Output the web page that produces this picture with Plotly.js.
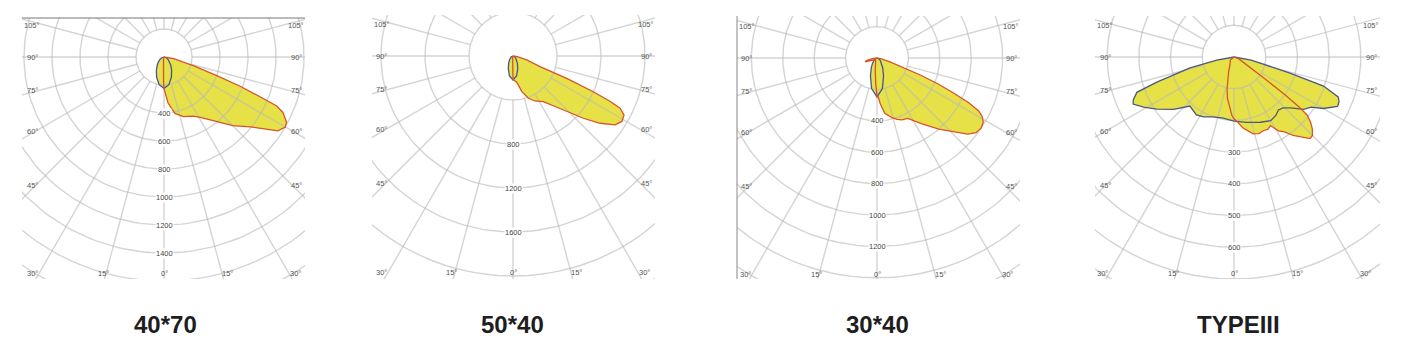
<!DOCTYPE html>
<html><head><meta charset="utf-8">
<script src="https://cdn.plot.ly/plotly-3.0.1.min.js"></script>
<style>html,body{margin:0;padding:0;background:#fff;}#chart{width:1407px;height:349px;}</style>
</head><body><div id="chart"></div>
<script>
// ---------- DATA (angle from nadir in degrees; negative = C180/C270 side; intensity in cd) ----------
const TITLES = ['40*70', '50*40', '30*40', 'TYPEIII'];

// Panel 1 : 40*70
const P1_RED_ANG = [-90, -30, -10, -5, -2, -1, 0, 2, 5, 11, 18, 26, 31, 39, 45, 51, 55, 57, 60, 62, 65, 66.5, 67.5, 69, 70.5, 73.5, 80, 90];
const P1_RED_CD  = [0, 5, 20, 45, 110, 180, 225, 265, 330, 410, 448, 470, 504, 592, 694, 793, 896, 969, 1001, 991, 937, 878, 742, 583, 400, 218, 70, 0];
const P1_BLUE_ANG = [-90, -80, -70, -60, -50, -40, -30, -20, -10, 0, 10, 20, 30, 40, 50, 60, 70, 80, 90];
const P1_BLUE_CD  = [0, 10, 20, 33, 51, 75, 109, 154, 201, 224, 201, 154, 109, 75, 51, 33, 20, 10, 0];
const P1_RINGS = [200, 400, 600, 800, 1000, 1200, 1400, 1600, 1800];
const P1_RING_LABELS = [400, 600, 800, 1000, 1200, 1400];

// Panel 2 : 50*40
const P2_RED_ANG = [-90, -30, -10, -5, -2, -1, 0, 4, 8, 14, 20, 26, 33.5, 39, 44, 48.5, 52.3, 56, 59, 62, 64, 65, 66, 67.4, 68.4, 74, 82, 90];
const P2_RED_CD  = [0, 5, 20, 40, 100, 170, 215, 225, 240, 334, 409, 455, 498, 582, 703, 854, 1000, 1119, 1155, 1143, 1083, 972, 799, 529, 264, 130, 40, 0];
const P2_BLUE_ANG = [-90, -80, -70, -60, -50, -40, -30, -20, -10, 0, 10, 20, 30, 40, 50, 60, 70, 80, 90];
const P2_BLUE_CD  = [0, 6, 13, 22, 34, 52, 80, 125, 185, 218, 185, 125, 80, 52, 34, 22, 13, 6, 0];
const P2_RINGS = [400, 800, 1200, 1600, 2000, 2400];
const P2_RING_LABELS = [800, 1200, 1600];

// Panel 3 : 30*40
const P3_RED_ANG = [-90, -82, -77, -72.5, -68, -60, -40, -20, -8, -3, -1, 0, 2, 4, 8, 14, 18, 22, 27, 34, 41, 47, 50, 53, 56, 59, 61, 62.5, 64, 65.5, 67, 68.5, 70, 73, 80, 90];
const P3_RED_CD  = [0, 30, 65, 80, 45, 25, 15, 25, 80, 160, 215, 240, 250, 290, 355, 392, 411, 425, 432, 505, 600, 690, 755, 790, 800, 790, 765, 730, 650, 530, 420, 300, 190, 90, 30, 0];
const P3_BLUE_ANG = [-90, -80, -70, -60, -50, -40, -30, -20, -10, 0, 10, 20, 30, 40, 50, 60, 70, 80, 90];
const P3_BLUE_CD  = [0, 5, 11, 18, 29, 45, 73, 122, 198, 248, 198, 122, 73, 45, 29, 18, 11, 5, 0];
const P3_RINGS = [200, 400, 600, 800, 1000, 1200, 1400, 1600];
const P3_RING_LABELS = [400, 600, 800, 1000, 1200];

// Panel 4 : TYPEIII
const P4_RED_ANG = [-90, -50, -26, -20, -15, -12, -9, -5, -2, 0, 3, 7, 10, 14, 18, 22, 25, 28, 31, 34, 37, 40, 43, 45, 47.5, 49.5, 51.5, 52.5, 53.5, 55, 60, 70, 90];
const P4_RED_CD  = [0, 15, 30, 50, 75, 105, 132, 160, 185, 195, 205, 225, 235, 250, 254, 250, 252, 245, 272, 285, 310, 330, 352, 350, 335, 318, 295, 260, 200, 110, 45, 15, 0];
const P4_BLUE_ANG = [-90, -80, -76, -72, -70, -67, -65, -61, -56, -49, -42, -33, -27, -19, -10, 0, 11, 22, 30, 36, 40, 44, 48, 53, 57, 60, 64.5, 67, 69, 72, 74, 80, 90];
const P4_BLUE_CD  = [0, 55, 143, 256, 326, 345, 351, 326, 294, 252, 208, 218, 212, 200, 196, 202, 210, 222, 232, 226, 218, 223, 240, 275, 290, 325, 362, 360, 352, 297, 184, 55, 0];
const P4_RINGS = [100, 200, 300, 400, 500, 600, 700, 800];
const P4_RING_LABELS = [300, 400, 500, 600];

const SIDE_LABELS = ['105°', '90°', '75°', '60°', '45°'];
const BOTTOM_LABELS = ['30°', '15°', '0°', '15°', '30°'];

// ---------- LAYOUT GEOMETRY (pixels) ----------
const W = 1407, H = 349;
const FRAMES = [
  {L: 22,   R: 305,  T: 18, B: 279, cx: 164,  cy: 57, s: 0.140, titleX: 165},
  {L: 372,  R: 655,  T: 15, B: 279, cx: 513,  cy: 56, s: 0.110, titleX: 512},
  {L: 737,  R: 1020, T: 16, B: 279, cx: 877,  cy: 58, s: 0.157, titleX: 877},
  {L: 1095, R: 1380, T: 16, B: 279, cx: 1234, cy: 57, s: 0.317, titleX: 1238}
];
const PANELS = [
  {red: [P1_RED_ANG, P1_RED_CD], blue: [P1_BLUE_ANG, P1_BLUE_CD], rings: P1_RINGS, labels: P1_RING_LABELS},
  {red: [P2_RED_ANG, P2_RED_CD], blue: [P2_BLUE_ANG, P2_BLUE_CD], rings: P2_RINGS, labels: P2_RING_LABELS},
  {red: [P3_RED_ANG, P3_RED_CD], blue: [P3_BLUE_ANG, P3_BLUE_CD], rings: P3_RINGS, labels: P3_RING_LABELS},
  {red: [P4_RED_ANG, P4_RED_CD], blue: [P4_BLUE_ANG, P4_BLUE_CD], rings: P4_RINGS, labels: P4_RING_LABELS}
];

const YELLOW = 'rgb(229,225,70)';
const RED = 'rgb(214,84,44)';
const BLUE = 'rgb(72,84,150)';
const GRID = 'rgba(185,185,185,0.62)';

function polar(angs, cds) {
  const x = [], y = [];
  for (let i = 0; i < angs.length; i++) {
    const a = angs[i] * Math.PI / 180;
    x.push(cds[i] * Math.sin(a));
    y.push(-cds[i] * Math.cos(a));
  }
  return {x, y};
}

const traces = [];
const annotations = [];
const shapes = [];
const layout = {
  width: W, height: H, margin: {l: 0, r: 0, t: 0, b: 0},
  paper_bgcolor: '#fff', plot_bgcolor: 'rgba(0,0,0,0)', showlegend: false,
  annotations, shapes
};

PANELS.forEach((p, i) => {
  const f = FRAMES[i];
  const n = i === 0 ? '' : String(i + 1);
  const xa = 'x' + n, ya = 'y' + n;
  layout['xaxis' + n] = {domain: [f.L / W, f.R / W], range: [(f.L - f.cx) / f.s, (f.R - f.cx) / f.s],
    visible: false, showgrid: false, zeroline: false, fixedrange: true};
  layout['yaxis' + n] = {domain: [1 - f.B / H, 1 - f.T / H], range: [-(f.B - f.cy) / f.s, (f.cy - f.T) / f.s],
    visible: false, showgrid: false, zeroline: false, fixedrange: true};

  const red = polar(p.red[0], p.red[1]);
  const blue = polar(p.blue[0], p.blue[1]);
  const base = {type: 'scatter', mode: 'lines', xaxis: xa, yaxis: ya, hoverinfo: 'skip'};

  // fills
  traces.push(Object.assign({}, base, {x: blue.x, y: blue.y, fill: 'toself', fillcolor: YELLOW, line: {width: 0, color: YELLOW}}));
  traces.push(Object.assign({}, base, {x: red.x, y: red.y, fill: 'toself', fillcolor: YELLOW, line: {width: 0, color: YELLOW}}));

  // grid rings
  const gx = [], gy = [];
  p.rings.forEach(r => {
    for (let k = 0; k <= 180; k++) {
      const a = k * 2 * Math.PI / 180;
      gx.push(r * Math.sin(a)); gy.push(-r * Math.cos(a));
    }
    gx.push(null); gy.push(null);
  });
  // radial spokes every 15°
  const rIn = p.rings[0], rOut = p.rings[p.rings.length - 1] * 2;
  for (let d = 0; d < 360; d += 15) {
    const a = d * Math.PI / 180;
    gx.push(rIn * Math.sin(a), rOut * Math.sin(a), null);
    gy.push(-rIn * Math.cos(a), -rOut * Math.cos(a), null);
  }
  traces.push(Object.assign({}, base, {x: gx, y: gy, line: {width: 1.4, color: GRID}}));

  // outlines
  traces.push(Object.assign({}, base, {x: blue.x, y: blue.y, line: {width: 1.3, color: i === 3 ? 'rgb(78,88,125)' : BLUE}}));
  traces.push(Object.assign({}, base, {x: red.x, y: red.y, line: {width: 1.3, color: RED}}));

  // ring labels
  p.labels.forEach(v => {
    annotations.push({xref: xa, yref: ya, x: 0, y: -v, text: String(v), showarrow: false,
      bgcolor: '#fff', borderpad: 0, font: {family: 'Liberation Sans, Arial', size: 7.5, color: '#444'},
      xanchor: 'center', yanchor: 'middle'});
  });

  // angle labels (side)
  const sideDy = [-31, 0, 34, 74, 128];
  SIDE_LABELS.forEach((t, k) => {
    const py = f.cy + sideDy[k];
    [f.L + 10, f.R - 9].forEach(px => {
      annotations.push({xref: 'paper', yref: 'paper', x: px / W, y: 1 - py / H, text: t, showarrow: false,
        font: {family: 'Liberation Sans, Arial', size: 7.5, color: '#555'}, xanchor: 'center', yanchor: 'middle'});
    });
  });
  const botDx = [-132, -61, 0, 63, 131];
  BOTTOM_LABELS.forEach((t, k) => {
    annotations.push({xref: 'paper', yref: 'paper', x: (f.cx + botDx[k]) / W, y: 1 - (f.cy + 216) / H, text: t, showarrow: false,
      font: {family: 'Liberation Sans, Arial', size: 7.5, color: '#555'}, xanchor: 'center', yanchor: 'middle'});
  });

  // title
  annotations.push({xref: 'paper', yref: 'paper', x: f.titleX / W, y: 1 - 324 / H, text: '<b>' + TITLES[i] + '</b>',
    showarrow: false, font: {family: 'Liberation Sans, Arial', size: 24, color: '#1e1e1e'}, xanchor: 'center', yanchor: 'middle'});
});

// frame edge remnants visible in the reference
shapes.push({type: 'line', xref: 'paper', yref: 'paper', x0: 22 / W, x1: 305 / W, y0: 1 - 18 / H, y1: 1 - 18 / H, line: {color: '#777', width: 1}});
shapes.push({type: 'line', xref: 'paper', yref: 'paper', x0: 737 / W, x1: 737 / W, y0: 1 - 16 / H, y1: 1 - 279 / H, line: {color: '#888', width: 1}});

Plotly.newPlot('chart', traces, layout, {staticPlot: true, displayModeBar: false});
</script></body></html>
